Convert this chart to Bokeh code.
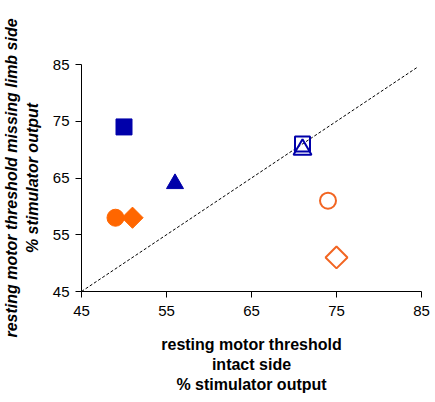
import numpy as np
from bokeh.plotting import figure
from bokeh.models import Range1d, FixedTicker
from bokeh.embed import file_html
from bokeh.resources import INLINE

# data (intact side %, missing limb side %)
filled_square_x = [50]
filled_square_y = [74]
filled_triangle_x = [56]
filled_triangle_y = [64]
open_square_x = [71]
open_square_y = [71]
open_triangle_x = [71]
open_triangle_y = [70]
filled_circle_x = [49]
filled_circle_y = [58]
filled_diamond_x = [51]
filled_diamond_y = [58]
open_circle_x = [74]
open_circle_y = [61]
open_diamond_x = [75]
open_diamond_y = [51]
identity_x = [45, 84.5]
identity_y = [45, 84.5]
ticks = [45, 55, 65, 75, 85]

BLUE = "#0000AA"
ORANGE = "#FF6600"
ORANGE_OPEN = "#F26522"

p = figure(frame_width=340, frame_height=227, output_backend="svg", toolbar_location=None,
           x_range=Range1d(45, 85), y_range=Range1d(45, 85),
           min_border_left=40, min_border_right=10, min_border_top=64, min_border_bottom=103)
p.outline_line_color = None
p.xgrid.visible = False
p.ygrid.visible = False
p.background_fill_color = "white"
p.border_fill_color = "white"

for ax in (p.xaxis, p.yaxis):
    ax.ticker = FixedTicker(ticks=ticks)
    ax.minor_tick_line_color = None
    ax.major_tick_in = 0
    ax.major_tick_out = 6
    ax.axis_line_color = "black"
    ax.axis_line_width = 1
    ax.major_tick_line_color = "black"
    ax.major_label_text_font = "Liberation Sans"
    ax.major_label_text_font_size = "15px"
    ax.major_label_text_color = "black"
    ax.axis_label_text_font = "Liberation Sans"
    ax.axis_label_text_font_size = "16px"
    ax.axis_label_text_color = "black"
    ax.axis_label_text_line_height = 1.2

p.xaxis.axis_label = "resting motor threshold\nintact side\n% stimulator output"
p.xaxis.axis_label_text_font_style = "bold"
p.xaxis.major_label_standoff = 8
p.xaxis.axis_label_standoff = 17
p.yaxis.axis_label = "resting motor threshold missing limb side\n% stimulator output"
p.yaxis.axis_label_text_font_style = "bold italic"
p.yaxis.major_label_standoff = 6
p.yaxis.axis_label_standoff = 9

p.line(identity_x, identity_y, line_color="black", line_width=1, line_dash="3 2")

p.scatter(filled_square_x, filled_square_y, marker="square", size=16,
          fill_color=BLUE, line_color=BLUE)
p.scatter(filled_triangle_x, filled_triangle_y, marker="triangle", size=17,
          fill_color=BLUE, line_color=BLUE)
p.scatter(open_square_x, open_square_y, marker="square", size=15,
          fill_color=None, line_color=BLUE, line_width=2)
p.scatter(open_triangle_x, open_triangle_y, marker="triangle", size=18,
          fill_color=None, line_color=BLUE, line_width=2)
p.scatter(filled_circle_x, filled_circle_y, marker="circle", size=17,
          fill_color=ORANGE, line_color=ORANGE)
p.scatter(filled_diamond_x, filled_diamond_y, marker="square", size=15, angle=np.pi / 4,
          fill_color=ORANGE, line_color=ORANGE)
p.scatter(open_circle_x, open_circle_y, marker="circle", size=16,
          fill_color=None, line_color=ORANGE_OPEN, line_width=2)
p.scatter(open_diamond_x, open_diamond_y, marker="square", size=15.5, angle=np.pi / 4,
          fill_color=None, line_color=ORANGE_OPEN, line_width=2)

open("out.html", "w").write(file_html(p, INLINE))
